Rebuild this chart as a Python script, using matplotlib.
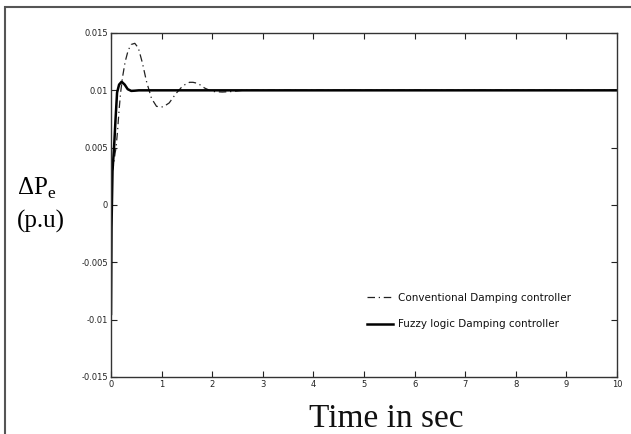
import matplotlib
matplotlib.use("Agg")
import matplotlib.pyplot as plt
from matplotlib.patches import Rectangle

# data
t_fuzzy = [0, 0.01, 0.03, 0.06, 0.09, 0.12, 0.16, 0.21, 0.27, 0.33, 0.40, 0.47, 0.55, 0.65, 0.8, 1.0, 10]
dp_fuzzy = [-0.0095, -0.002, 0.003, 0.005, 0.0075, 0.0098, 0.0105, 0.01075, 0.0105, 0.0101, 0.00995,
            0.00997, 0.01, 0.01, 0.01, 0.01, 0.01]

t_conv = [0, 0.02, 0.05, 0.08, 0.10, 0.13, 0.16, 0.19, 0.23, 0.28, 0.34, 0.40, 0.47, 0.54, 0.62, 0.70,
          0.80, 0.90, 1.03, 1.15, 1.28, 1.42, 1.55, 1.62, 1.72, 1.85, 2.0, 2.2, 2.4, 2.6, 2.8, 3.2, 10]
dp_conv = [0.0, 0.0028, 0.0035, 0.0045, 0.005, 0.0065, 0.0083, 0.0098, 0.0112, 0.0125, 0.0135, 0.014,
           0.0141, 0.0137, 0.0124, 0.0108, 0.0093, 0.0086, 0.00855, 0.0089, 0.0097, 0.0104, 0.0107,
           0.0107, 0.0106, 0.0102, 0.0099, 0.00985, 0.0099, 0.01, 0.01, 0.01, 0.01]

x_ticks = list(range(0, 11))
y_ticks = [-0.015, -0.01, -0.005, 0, 0.005, 0.01, 0.015]
y_ticklabels = ["-0.015", "-0.01", "-0.005", "0", "0.005", "0.01", "0.015"]

fig = plt.figure(figsize=(6.31, 4.34), dpi=100)
ax = fig.add_axes([111 / 631, 1 - 377 / 434, 506 / 631, 344 / 434])

ax.plot(t_conv, dp_conv, color="#222222", lw=0.9, linestyle=(0, (6, 3, 1, 3)),
        label="Conventional Damping controller")
ax.plot(t_fuzzy, dp_fuzzy, color="black", lw=1.8, label="Fuzzy logic Damping controller")

ax.set_xlim(0, 10)
ax.set_ylim(-0.015, 0.015)
ax.set_xticks(x_ticks)
ax.set_yticks(y_ticks)
ax.set_yticklabels(y_ticklabels)
ax.tick_params(direction="in", length=4, width=0.8, top=True, right=True,
               labelsize=6, pad=2, colors="#222222")
for s in ax.spines.values():
    s.set_linewidth(1.0)
    s.set_color("#333333")

leg = ax.legend(loc="upper left", bbox_to_anchor=(367 / 631, 1 - 293 / 434),
                bbox_transform=fig.transFigure, frameon=False,
                prop={"size": 7.5},
                handlelength=2.5, handletextpad=0.45, labelspacing=1.55,
                borderpad=0, borderaxespad=0)
for txt in leg.get_texts():
    txt.set_color("#111111")

# y label in two lines, serif
fig.text(17 / 631, 1 - 195 / 434, "ΔP$_\\mathregular{e}$", family="Liberation Serif",
         fontsize=18, ha="left", va="baseline")
fig.text(17 / 631, 1 - 228 / 434, "(p.u)", family="Liberation Serif",
         fontsize=18, ha="left", va="baseline")
fig.text(386 / 631, 1 - 427 / 434, "Time in sec", family="Liberation Serif",
         fontsize=24, ha="center", va="baseline", color="#111111")

# outer frame of the scanned figure
fig.add_artist(Rectangle((4.5 / 631, -0.1), 1.2, 1 - 7.5 / 434 + 0.1, transform=fig.transFigure,
                         fill=False, lw=1.5, edgecolor="#555555"))

fig.savefig("out.png", dpi=100)
